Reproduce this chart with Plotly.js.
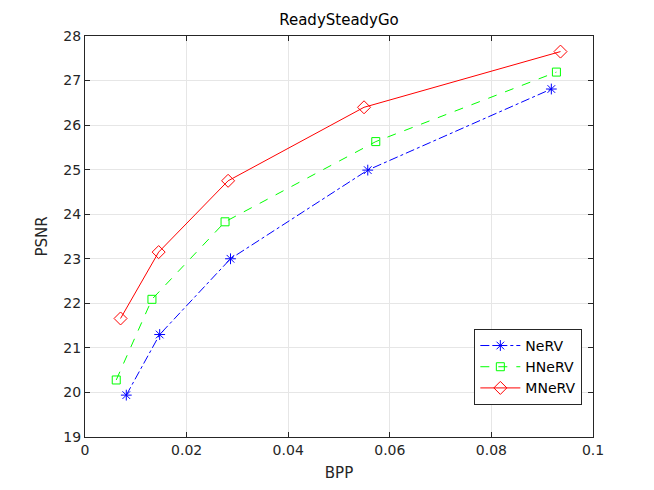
<!DOCTYPE html>
<html><head><meta charset="utf-8">
<script src="https://cdn.plot.ly/plotly-3.0.1.min.js"></script>
<style>html,body{margin:0;padding:0;background:#fff}#c{width:654px;height:490px}</style>
</head><body><div id="c"></div>
<script>
const chartTitle = "ReadySteadyGo";
const xLabel = "BPP";
const yLabel = "PSNR";
const seriesNames = ["NeRV", "HNeRV", "MNeRV"];
const nervBpp = [0.00813, 0.0147, 0.02864, 0.05566, 0.0918];
const nervPsnr = [19.94, 21.30, 23.00, 24.99, 26.81];
const hnervBpp = [0.00615, 0.01318, 0.02757, 0.05724, 0.0928];
const hnervPsnr = [20.28, 22.09, 23.83, 25.63, 27.19];
const mnervBpp = [0.0070, 0.0145, 0.02817, 0.05493, 0.0936];
const mnervPsnr = [21.66, 23.15, 24.75, 26.40, 27.65];
const xTicks = [0, 0.02, 0.04, 0.06, 0.08, 0.1];
const xTickText = ["0", "0.02", "0.04", "0.06", "0.08", "0.1"];
const yTicks = [19, 20, 21, 22, 23, 24, 25, 26, 27, 28];

const font = "DejaVu Sans, sans-serif";
const traces = [
  {x: nervBpp, y: nervPsnr, name: seriesNames[0], mode: "lines+markers",
   line: {color: "#0000ff", width: 1, dash: "dashdot"},
   marker: {symbol: "asterisk-open", size: 9, color: "#0000ff", line: {color: "#0000ff", width: 1}}},
  {x: hnervBpp, y: hnervPsnr, name: seriesNames[1], mode: "lines+markers",
   line: {color: "#00ff00", width: 1, dash: "dash"},
   marker: {symbol: "square-open", size: 8, color: "#00ff00", line: {color: "#00ff00", width: 1}}},
  {x: mnervBpp, y: mnervPsnr, name: seriesNames[2], mode: "lines+markers",
   line: {color: "#ff0000", width: 1},
   marker: {symbol: "diamond-open", size: 10, color: "#ff0000", line: {color: "#ff0000", width: 1}}}
];
const axCommon = {
  showline: true, linecolor: "#262626", linewidth: 1, mirror: "ticks",
  ticks: "inside", ticklen: 5, tickcolor: "#262626", tickwidth: 1,
  showgrid: true, gridcolor: "#e6e6e6", gridwidth: 1, zeroline: false,
  tickfont: {family: font, size: 14, color: "#262626"}
};
const layout = {
  width: 654, height: 490,
  margin: {l: 85, r: 61, t: 36, b: 53},
  paper_bgcolor: "#ffffff", plot_bgcolor: "#ffffff",
  showlegend: true,
  title: {text: chartTitle, x: 0.5, xref: "paper", y: 1, yref: "container", yanchor: "top", pad: {t: 14},
          font: {family: font, size: 15, color: "#000000"}},
  xaxis: Object.assign({}, axCommon, {range: [0, 0.1], tickvals: xTicks, ticktext: xTickText,
          title: {text: xLabel, font: {family: font, size: 15, color: "#262626"}, standoff: 10}}),
  yaxis: Object.assign({}, axCommon, {range: [19, 28], tickvals: yTicks,
          title: {text: yLabel, font: {family: font, size: 15, color: "#262626"}, standoff: 12}}),
  legend: {x: 0.979, y: 0.08, xanchor: "right", yanchor: "bottom",
           bgcolor: "#ffffff", bordercolor: "#262626", borderwidth: 1,
           font: {family: font, size: 14, color: "#000000"}, tracegroupgap: 0, itemwidth: 40}
};
Plotly.newPlot("c", traces, layout, {displayModeBar: false, staticPlot: true});
</script></body></html>
